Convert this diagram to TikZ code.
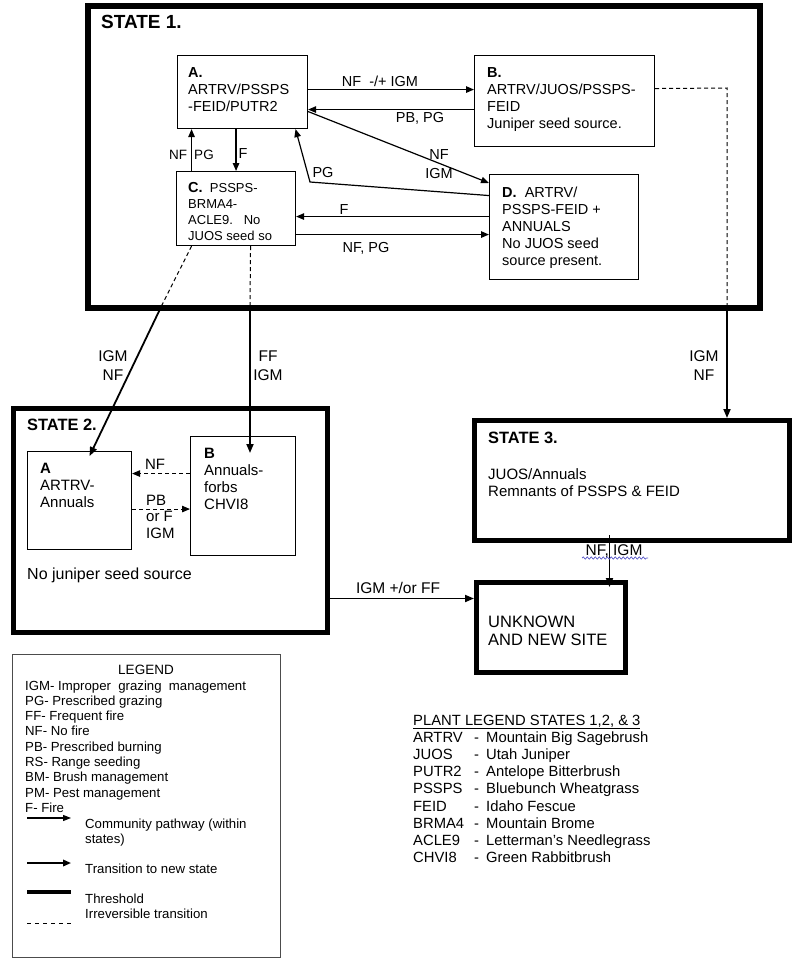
\documentclass[tikz,border=0pt]{standalone}
\usepackage{fontspec}
\setmainfont{Liberation Sans}
\usetikzlibrary{arrows.meta,decorations.pathmorphing}
\definecolor{squig}{RGB}{90,90,200}
\begin{document}
\begin{tikzpicture}[x=1pt,y=-1pt,
  box/.style={draw, line width=1.1pt, inner sep=0pt, anchor=north west},
  sbox/.style={draw, line width=5pt, inner sep=0pt, anchor=north west},
  txt/.style={anchor=base west, inner sep=0pt, align=left, font=\fontsize{14.5}{17}\selectfont},
  lab/.style={inner sep=0pt, align=center, font=\fontsize{14.5}{18.5}\selectfont},
  leg/.style={anchor=base west, inner sep=0pt, align=left, font=\fontsize{13.2}{15.3}\selectfont},
  arr/.style={line width=1.2pt, -{Triangle[length=8pt,width=6.5pt]}},
  tarr/.style={line width=1.8pt, -{Triangle[length=9pt,width=7pt]}},
  dsh/.style={line width=1pt, dash pattern=on 4pt off 3pt},
  dtitle/.style={anchor=base west, inner sep=0pt, font=\fontsize{16.4}{20}\bfseries\selectfont},
]
\fill[white] (0,0) rectangle (800,966);
\useasboundingbox (0,0) rectangle (800,966);

% multi-line text nodes are anchored at the baseline of their LAST line

% ---------------- STATE 1 ----------------
\node[sbox, line width=6pt, minimum width=672pt, minimum height=302pt] (S1) at (85,3) {};
\node[dtitle, font=\fontsize{19}{22}\bfseries\selectfont] (S1t) at (101,29) {STATE 1.};

\node[box, minimum width=130pt, minimum height=73pt] (A) at (177,55) {};
\node[box, minimum width=180pt, minimum height=91pt] (B) at (474,55) {};
\node[box, minimum width=119pt, minimum height=74pt] (C) at (176,171) {};
\node[box, minimum width=149pt, minimum height=105pt] (D) at (489,174) {};

\node[txt] (At) at (188,111) {\textbf{A.}\\ARTRV/PSSPS\\-FEID/PUTR2};
\node[txt] (Bt) at (487,128) {\textbf{B.}\\ARTRV/JUOS/PSSPS-\\FEID\\Juniper seed source.};
\begin{scope}
\clip (C.north west) rectangle (C.south east);
\node[txt, font=\fontsize{13}{16}\selectfont] (Ct) at (188,240)
  {{\fontsize{14.5}{16}\bfseries\selectfont C.}\ \ PSSPS-\\BRMA4-\\ACLE9.\ \ \ No\\JUOS seed so};
\end{scope}
\node[txt, font=\fontsize{14.5}{17.2}\selectfont] (Dt) at (502,265.8)
  {\textbf{D.}\ \ ARTRV/\\PSSPS-FEID +\\ANNUALS\\No JUOS seed\\source present.};

% community pathways in state 1
\draw[arr] ([yshift=2.5]A.east) -- ([yshift=11.5]B.west);
\node[lab] (l1) at (380,81) {NF\ \ -/+ IGM};
\draw[arr] ([yshift=-8.5]B.west) -- ([yshift=-17.5]A.east);
\node[lab] (l2) at (420,118) {PB, PG};
\draw[arr] ([yshift=-19.5]A.east) -- ([yshift=-9]D.north west);
\node[lab] (l3) at (439,164) {NF\\IGM};
\coordinate (pgbend) at (310,182);
\draw[arr] ([yshift=31.5]D.west) -- (pgbend) -- ([xshift=53]A.south);
\node[lab] (l4) at (323,173) {PG};
\draw[arr] (A.south -| C.north) -- (C.north);
\node[lab] (l5) at (243,154) {F};
\draw[arr] ([xshift=-44.5]C.north) -- ([xshift=-44.5]C.north |- A.south);
\node[lab, font=\fontsize{13.5}{16}\selectfont] (l6a) at (178,155) {NF};
\node[lab, font=\fontsize{13.5}{16}\selectfont] (l6b) at (204,155) {PG};
\draw[arr] ([yshift=10.5]D.west) -- ([yshift=10.5]D.west -| C.east);
\node[lab] (l7) at (344,210) {F};
\draw[arr] ([yshift=-26]C.east) -- ([yshift=-26]C.east -| D.west);
\node[lab] (l8) at (366,248) {NF, PG};

% ---------------- STATE 2 ----------------
\node[sbox, minimum width=314pt, minimum height=224pt] (S2) at (11,406) {};
\node[dtitle] (S2t) at (27,430) {STATE 2.};
\node[box, minimum width=104pt, minimum height=98pt] (S2A) at (27,451) {};
\node[box, minimum width=105pt, minimum height=119pt] (S2B) at (190,436) {};
\node[txt, font=\fontsize{15}{17}\selectfont] (S2At) at (40,507) {\textbf{A}\\ARTRV-\\Annuals};
\node[txt, font=\fontsize{15}{17}\selectfont] (S2Bt) at (204,509) {\textbf{B}\\Annuals-\\forbs\\CHVI8};
\node[txt, font=\fontsize{16}{18}\selectfont] (S2n) at (27,579) {No juniper seed source};

\draw[dsh, -{Triangle[length=8pt,width=6.5pt]}] ([yshift=22.5]S2B.west) -- ([yshift=22.5]S2B.west -| S2A.east);
\node[lab, font=\fontsize{15}{17}\selectfont] (l9) at (155,464) {NF};
\draw[dsh, -{Triangle[length=8pt,width=6.5pt]}] ([yshift=-8.5]S2A.east) -- ([yshift=-8.5]S2A.east -| S2B.west);
\node[txt, font=\fontsize{15}{16.5}\selectfont] (l10) at (146,538) {PB\\or F\\IGM};

% transitions from state 1
\coordinate (k1) at (162,305);
\draw[dsh] ([xshift=-44.5]C.south) -- (k1);
\draw[tarr] (k1) -- ([xshift=10,yshift=-5]S2A.north);
\node[lab, font=\fontsize{15.5}{19}\selectfont] (l11) at (113,366) {IGM\\NF};

\coordinate (k2) at (250,305);
\draw[dsh] ([xshift=14.5]C.south) -- (k2);
\draw[tarr] (k2) -- ([yshift=-17]k2 |- S2B.north);
\node[lab, font=\fontsize{15.5}{19}\selectfont] (l12) at (268,366) {FF\\IGM};

\coordinate (k3a) at (727,88);
\coordinate (k3) at (727,305);
\draw[dsh] ([yshift=12.5]B.east) -- (k3a) -- (k3);

% ---------------- STATE 3 ----------------
\node[sbox, minimum width=315pt, minimum height=120pt] (S3) at (472,418) {};
\node[dtitle] (S3t) at (488,443) {STATE 3.};
\node[txt, font=\fontsize{15}{17}\selectfont] (S3x) at (488,496) {JUOS/Annuals\\Remnants of PSSPS \& FEID};
\draw[tarr] (k3) -- (k3 |- S3.north);
\node[lab, font=\fontsize{15.5}{19}\selectfont] (l13) at (704,366) {IGM\\NF};

% ---------------- UNKNOWN ----------------
\node[sbox, line width=4.5pt, minimum width=149pt, minimum height=90pt] (U) at (474,580) {};
\node[txt, font=\fontsize{16.5}{18}\selectfont] (Ut) at (488,645) {UNKNOWN\\AND NEW SITE};

\coordinate (u1) at ([xshift=-22.5,yshift=8]S3.south);
\draw[tarr] (u1) -- ([yshift=-7]u1 |- U.north);
\node[lab, font=\fontsize{15.5}{19}\selectfont] (l14) at (614,551) {NF, IGM};
\coordinate (sq1) at (582,558);
\coordinate (sq2) at (648,558);
\draw[squig, line width=0.7pt, decorate, decoration={snake, amplitude=1.1pt, segment length=4pt}] (sq1) -- (sq2);

\draw[tarr] ([yshift=-78]S2.east) -- ([yshift=-78]S2.east -| U.west);
\node[lab, font=\fontsize{15.5}{19}\selectfont] (l15) at (398,588) {IGM +/or FF};

% ---------------- LEGEND ----------------
\node[draw=black!70, line width=0.9pt, inner sep=0pt, anchor=north west, minimum width=268pt, minimum height=303pt] (L) at (12,654) {};
\node[inner sep=0pt, anchor=base, font=\fontsize{13.5}{16}\selectfont] (Lt) at (146,674) {LEGEND};
\node[leg] (Lx) at (25,812.4) {IGM- Improper\ \ grazing\ \ management\\PG- Prescribed grazing\\FF- Frequent fire\\NF- No fire\\PB- Prescribed burning\\RS- Range seeding\\BM- Brush management\\PM- Pest management\\F- Fire};
\coordinate (la1) at (27,818); \coordinate (la2) at (71,818);
\draw[line width=1.1pt, -{Triangle[length=8pt,width=6pt]}] (la1) -- (la2);
\node[leg, font=\fontsize{13.2}{15.7}\selectfont] (Lc) at (85,843.7) {Community pathway (within\\states)};
\coordinate (lb1) at (27,863); \coordinate (lb2) at (71,863);
\draw[line width=1.8pt, -{Triangle[length=8pt,width=6.5pt]}] (lb1) -- (lb2);
\node[leg] (Ltr) at (85,873) {Transition to new state};
\coordinate (lc1) at (27,892); \coordinate (lc2) at (71,892);
\draw[line width=4pt] (lc1) -- (lc2);
\node[leg] (Lth) at (85,918.3) {Threshold\\Irreversible transition};
\coordinate (ld1) at (27,923); \coordinate (ld2) at (71,923);
\draw[line width=1pt, dash pattern=on 4pt off 4pt] (ld1) -- (ld2);

% ---------------- PLANT LEGEND ----------------
\node[txt, font=\fontsize{14.8}{17.2}\selectfont] (P) at (413,862.6)
 {\underline{PLANT LEGEND STATES 1,2, \& 3}\\
  \makebox[61pt][l]{ARTRV}\makebox[12pt][l]{-}Mountain Big Sagebrush\\
  \makebox[61pt][l]{JUOS}\makebox[12pt][l]{-}Utah Juniper\\
  \makebox[61pt][l]{PUTR2}\makebox[12pt][l]{-}Antelope Bitterbrush\\
  \makebox[61pt][l]{PSSPS}\makebox[12pt][l]{-}Bluebunch Wheatgrass\\
  \makebox[61pt][l]{FEID}\makebox[12pt][l]{-}Idaho Fescue\\
  \makebox[61pt][l]{BRMA4}\makebox[12pt][l]{-}Mountain Brome\\
  \makebox[61pt][l]{ACLE9}\makebox[12pt][l]{-}Letterman’s Needlegrass\\
  \makebox[61pt][l]{CHVI8}\makebox[12pt][l]{-}Green Rabbitbrush};
\end{tikzpicture}
\end{document}
